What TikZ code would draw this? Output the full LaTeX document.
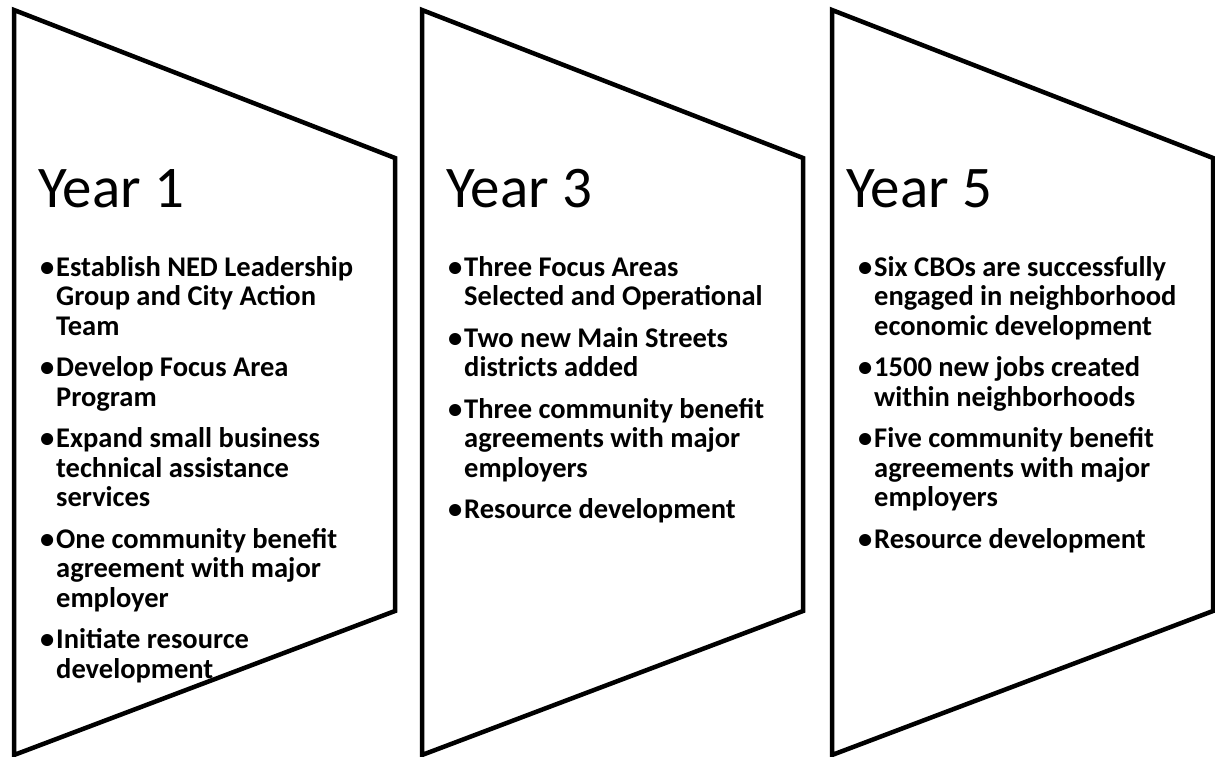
\documentclass[tikz,border=0pt]{standalone}
\usepackage{fontspec}
\setmainfont{Carlito}
\newcommand\bul{\makebox[16pt][l]{•}}
\tikzset{
  chev/.style={draw=black, line width=4.5pt, line join=miter},
  title/.style={anchor=base west, inner sep=0pt, font=\fontsize{59}{64}\selectfont},
  txt/.style={anchor=base west, inner sep=0pt, font=\fontsize{28.5}{30}\selectfont\bfseries},
}
\begin{document}
\begin{tikzpicture}[x=1pt,y=-1pt]
\useasboundingbox (0,0) rectangle (1215,757);
% shapes
\foreach \x in {14,422,832}{
  \draw[chev] (\x,10) -- (\x+381,158) -- (\x+381,611) -- (\x,755) -- cycle;
}
% Column 1
\node[title] (t1) at (38,207) {Year 1};
\node[txt] (a1) at (40,276) {\bul Establish NED Leadership};
\node[txt] (a2) at (56,305.5) {Group and City Action};
\node[txt] (a3) at (56,335) {Team};
\node[txt] (a4) at (40,376.5) {\bul Develop Focus Area};
\node[txt] (a5) at (56,406) {Program};
\node[txt] (a6) at (40,447.5) {\bul Expand small business};
\node[txt] (a7) at (56,477) {technical assistance};
\node[txt] (a8) at (56,506.5) {services};
\node[txt] (a9) at (40,548) {\bul One community benefit};
\node[txt] (a10) at (56,577.5) {agreement with major};
\node[txt] (a11) at (56,607) {employer};
\node[txt] (a12) at (40,648.5) {\bul Initiate resource};
\node[txt] (a13) at (56,678) {development};
% Column 2
\node[title] (t2) at (446,207) {Year 3};
\node[txt] (b1) at (448,276) {\bul Three Focus Areas};
\node[txt] (b2) at (464,305.5) {Selected and Operational};
\node[txt] (b3) at (448,347) {\bul Two new Main Streets};
\node[txt] (b4) at (464,376.5) {districts added};
\node[txt] (b5) at (448,418) {\bul Three community benefit};
\node[txt] (b6) at (464,447.5) {agreements with major};
\node[txt] (b7) at (464,477) {employers};
\node[txt] (b8) at (448,518.5) {\bul Resource development};
% Column 3
\node[title] (t3) at (846,207) {Year 5};
\node[txt] (c1) at (858,276) {\bul Six CBOs are successfully};
\node[txt] (c2) at (874,305.5) {engaged in neighborhood};
\node[txt] (c3) at (874,335) {economic development};
\node[txt] (c4) at (858,376.5) {\bul 1500 new jobs created};
\node[txt] (c5) at (874,406) {within neighborhoods};
\node[txt] (c6) at (858,447.5) {\bul Five community benefit};
\node[txt] (c7) at (874,477) {agreements with major};
\node[txt] (c8) at (874,506.5) {employers};
\node[txt] (c9) at (858,548) {\bul Resource development};
\end{tikzpicture}
\end{document}
